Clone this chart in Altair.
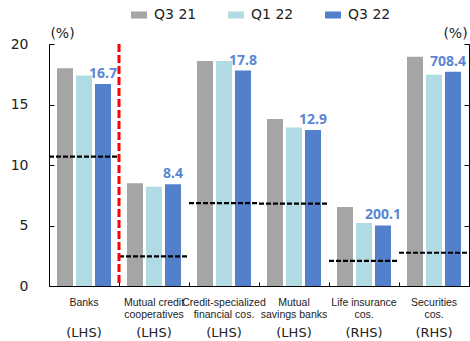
import json
import altair as alt
import pandas as pd

categories = ["Banks", "Mutual credit cooperatives", "Credit-specialized financial cos.",
              "Mutual savings banks", "Life insurance cos.", "Securities cos."]
label_lines = [["Banks"], ["Mutual credit", "cooperatives"], ["Credit-specialized", "financial cos."],
               ["Mutual", "savings banks"], ["Life insurance", "cos."], ["Securities", "cos."]]
sides = ["(LHS)", "(LHS)", "(LHS)", "(LHS)", "(RHS)", "(RHS)"]
series = ["Q3 21", "Q1 22", "Q3 22"]
q3_21 = [18.0, 8.5, 18.6, 13.8, 261.0, 758.0]
q1_22 = [17.4, 8.2, 18.6, 13.1, 208.0, 698.0]
q3_22 = [16.7, 8.4, 17.8, 12.9, 200.1, 708.4]
thresholds = [10.7, 2.45, 6.85, 6.8, 83.0, 110.0]
lhs_max = 20
rhs_max = 800
y_ticks = [0, 5, 10, 15, 20]
colors = ["#A5A5A5", "#B0DBE3", "#5480CB"]
label_color = "#5B86D3"


def factor(side):
    return lhs_max / rhs_max if side == "(RHS)" else 1.0


rows = []
for s, vals in zip(series, [q3_21, q1_22, q3_22]):
    for c, sd, v in zip(categories, sides, vals):
        rows.append({"cat": c, "series": s, "value": v, "plot": v * factor(sd)})
bars_df = pd.DataFrame(rows)

thr_df = pd.DataFrame({
    "cat": categories,
    "thr": thresholds,
    "plot": [t * factor(sd) for t, sd in zip(thresholds, sides)],
})
div_df = pd.DataFrame({"cat": [categories[1]], "top": [lhs_max], "bottom": [0]})

names_expr = json.dumps(label_lines) + "[indexof(" + json.dumps(categories) + ", datum.value)]"
sides_expr = json.dumps(sides) + "[indexof(" + json.dumps(categories) + ", datum.value)]"
last_cat = json.dumps(categories[-1]).replace('"', "'")

xscale = alt.Scale(paddingInner=0, paddingOuter=0)
yscale = alt.Scale(domain=[0, lhs_max], nice=False)
cat_font = "Liberation Sans"
title_kw = dict(title="(%)", titleAngle=0, titleY=-11, titleAlign="center",
                titleBaseline="middle", titleFont="DejaVu Sans", titleFontSize=14,
                titleFontWeight="normal", titleColor="#222222")

base_bars = alt.Chart(bars_df)

bars = base_bars.mark_bar().encode(
    x=alt.X("cat:N", sort=categories, scale=xscale, title=None,
            axis=alt.Axis(orient="bottom", labelExpr=names_expr, labelAngle=0, domain=True,
                          domainColor="black", ticks=False, tickSize=0, labelPadding=11,
                          labelLineHeight=12.5, labelBaseline="top", labelFont=cat_font,
                          labelFontSize=10.5, labelColor="#222222", grid=False)),
    xOffset=alt.XOffset("series:N", sort=series,
                        scale=alt.Scale(paddingInner=0.158, paddingOuter=0.42)),
    y=alt.Y("plot:Q", scale=yscale,
            axis=alt.Axis(orient="left", values=y_ticks, domain=True, domainColor="black",
                          ticks=False, tickSize=0, labelPadding=21, labelFont="DejaVu Sans",
                          labelFontSize=14, labelColor="#222222", grid=False,
                          titleX=13, **title_kw)),
    color=alt.Color("series:N", sort=series, scale=alt.Scale(domain=series, range=colors),
                    legend=alt.Legend(orient="none", legendX=82, legendY=-37, direction="horizontal",
                                      title=None, symbolType="M-1,-0.44H1V0.44H-1Z", symbolSize=256,
                                      symbolStrokeWidth=0, labelFont="DejaVu Sans", labelFontSize=14,
                                      labelColor="#222222", columnPadding=31, labelOffset=7)),
)

labels = base_bars.transform_filter(alt.datum.series == series[-1]).mark_text(
    align=alt.ExprRef(expr=f"datum.cat == {last_cat} ? 'right' : 'center'"),
    dx=alt.ExprRef(expr=f"datum.cat == {last_cat} ? 13 : 0"),
    baseline="alphabetic", dy=-6, font="Noto Sans", fontWeight="bold",
    fontSize=14, color=label_color
).encode(
    x=alt.X("cat:N", sort=categories, scale=xscale, title=None,
            axis=alt.Axis(orient="bottom", labelExpr=sides_expr, labelAngle=0, domain=False,
                          ticks=False, tickSize=0, labelPadding=40, labelBaseline="top",
                          labelFont="DejaVu Sans", labelFontSize=13, labelColor="#222222",
                          grid=False)),
    xOffset=alt.XOffset("series:N", sort=series,
                        scale=alt.Scale(paddingInner=0.158, paddingOuter=0.42)),
    y=alt.Y("plot:Q", scale=yscale,
            axis=alt.Axis(orient="left", values=y_ticks, offset=-5, domain=False, labels=False,
                          ticks=True, tickSize=5, tickColor="black", grid=False, title=None)),
    text=alt.Text("value:Q", format=".1f"),
)

thr = alt.Chart(thr_df).mark_rule(color="black", strokeWidth=2.2, strokeDash=[5, 2]).encode(
    x=alt.X("cat:N", sort=categories, scale=xscale, bandPosition=0, title=None,
            axis=alt.Axis(orient="bottom", labels=False, domain=False, ticks=True,
                          tickBand="extent", tickSize=4, offset=-4, tickColor="black",
                          grid=False)),
    x2=alt.X2("cat", bandPosition=1),
    y=alt.Y("plot:Q", scale=yscale,
            axis=alt.Axis(orient="right", values=y_ticks, domain=True, domainColor="black",
                          ticks=False, tickSize=0, labels=False, grid=False,
                          titleX=-14, **title_kw)),
)

divider = alt.Chart(div_df).mark_rule(color="#FF0000", strokeWidth=3, strokeDash=[8, 3]).encode(
    x=alt.X("cat:N", sort=categories, scale=xscale, bandPosition=0, axis=None),
    y=alt.Y("top:Q", scale=yscale,
            axis=alt.Axis(orient="right", values=y_ticks, offset=-5, domain=False, labels=False,
                          ticks=True, tickSize=5, tickColor="black", grid=False, title=None)),
    y2="bottom:Q",
)

chart = alt.layer(bars, labels, thr, divider).resolve_axis(
    x="independent", y="independent"
).properties(
    width=420, height=242,
    autosize=alt.AutoSizeParams(type="none"),
    padding={"left": 49, "top": 44, "right": 1, "bottom": 55},
).configure_view(stroke=None)

chart.save("out.html", embed_options={"renderer": "svg", "actions": False})
